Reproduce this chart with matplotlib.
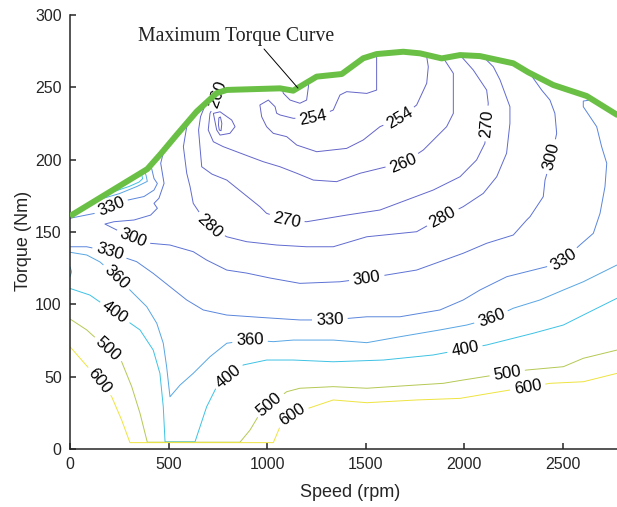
import numpy as np
import matplotlib
matplotlib.use("Agg")
import matplotlib.pyplot as plt
from matplotlib.contour import ContourSet

plt.rcParams["font.family"] = ["Liberation Sans", "DejaVu Sans"]

# BSFC iso-lines (g/kWh) in the speed-torque plane
levels = [254, 260, 270, 280, 300, 330, 360, 400, 500, 600]
level_colors = ["#6464c8", "#6466ca", "#6268cc", "#606bcf", "#5c72d4",
                "#5a86dc", "#58a6e4", "#3ec2e4", "#b4c954", "#eee440"]

# maximum torque curve
mt_speed = [0, 392, 460, 540, 642, 744, 795, 1065, 1132, 1251, 1378, 1487,
            1555, 1690, 1775, 1885, 1978, 2079, 2248, 2324, 2451, 2620, 2780]
mt_torque = [161, 193.5, 204, 217, 233.2, 246, 248.2, 249.3, 247.7, 257.4, 259.2,
             270.1, 273, 274.6, 273.5, 270, 272.3, 271.6, 266.6, 260.4, 251.6, 244, 230.5]

c600_speed = [0, 118, 211, 262, 304, 1031, 1065, 1126, 1208, 1335, 1505, 1758,
              1978, 2130, 2434, 2603, 2774]
c600_torque = [70.7, 52.3, 36.2, 20.0, 4.4, 4.4, 15.4, 23.5, 28.1, 33.9, 32.0, 33.9,
               35.0, 38.5, 45.4, 46.5, 52.3]

c500_speed = [0, 85, 262, 313, 355, 392, 862, 913, 974, 1099, 1166, 1335, 1505,
              1673, 1893, 1994, 2316, 2502, 2603, 2774]
c500_torque = [89.9, 82.3, 60.3, 43.1, 24.7, 4.7, 4.7, 13.1, 27.0, 39.6, 42.0, 43.1,
               42.0, 43.5, 45.4, 47.7, 54.6, 56.9, 62.7, 68.4]

c400_speed = [0, 101, 228, 355, 422, 456, 473, 482, 634, 693, 744, 879, 997, 1132,
              1335, 1589, 1842, 2113, 2349, 2502, 2603, 2774]
c400_torque = [111, 106.4, 94.4, 82.3, 68.4, 52.3, 29.2, 5.0, 5.0, 29.2, 43.1, 58.1,
               61.5, 61.5, 60.3, 61.5, 65.0, 71.9, 80.0, 85.7, 92.6, 104.2]
c400_edge_speed = [0, 8, 0]
c400_edge_torque = [126, 122.5, 119]
c400_top_speed = [185, 300, 350, 368, 362]
c400_top_torque = [176.2, 181.5, 184.5, 186.8, 191]

c360_speed = [0, 85, 152, 237, 321, 389, 440, 473, 490, 507, 558, 625, 710, 795,
              913, 1031, 1132, 1335, 1505, 1673, 1876, 2012, 2138, 2248, 2383,
              2502, 2603, 2774]
c360_torque = [136, 134.1, 129.3, 119.1, 107.6, 98.4, 86.9, 73.1, 56.9, 36.1, 44.2,
               52.3, 63.8, 73.1, 75.3, 74.2, 75.3, 75.3, 73.5, 77.6, 82.3, 85.7,
               90.3, 97.3, 103.0, 109.9, 115.6, 127.2]
c360_top_speed = [130, 250, 340, 392, 386, 378]
c360_top_torque = [171.8, 176.5, 181.5, 185, 189, 192.2]

c330_speed = [0, 85, 203, 288, 338, 422, 507, 592, 676, 795, 963, 1166, 1318, 1505,
              1673, 1876, 1994, 2079, 2215, 2417, 2502, 2586, 2654, 2688, 2713,
              2722, 2696, 2671, 2603, 2603, 2650]
c330_torque = [139.8, 139.8, 136.4, 131.8, 129.5, 121.4, 112.2, 103, 96.1, 92.6, 91,
               89.2, 89.2, 91.4, 91.4, 96.1, 103, 109.9, 119.1, 126, 130.6, 141,
               149.1, 162.9, 181.3, 197.5, 209, 222.8, 236.6, 240.5, 241.5]
c330_top_speed = [0, 130, 213, 291, 375, 426, 443, 426, 410]
c330_top_torque = [159.5, 163, 167.5, 172, 174.5, 179, 183.5, 187, 196.2]

c300_speed = [477, 460, 477, 451, 426, 443, 409, 325, 223, 177, 237, 321, 406, 507,
              625, 693, 795, 896, 1014, 1166, 1369, 1505, 1606, 1758, 1876, 1994,
              2113, 2248, 2316, 2333, 2400, 2409, 2443, 2468, 2459, 2434, 2392, 2330]
c300_torque = [206.8, 197.5, 183.6, 173.3, 169.8, 166.4, 161.7, 158.3, 157.1, 155.5,
               151.4, 145.6, 142.2, 141, 136.4, 130.6, 123.7, 121.6, 118.2, 114.5,
               115.6, 118, 120.3, 123.7, 129.5, 135.3, 142.2, 147.9, 158.3, 160.6,
               174.4, 185.9, 202, 218.2, 232, 241.2, 248.1, 260]

c280_speed = [643, 592, 575, 592, 609, 625, 659, 710, 795, 896, 1048, 1200, 1335,
              1505, 1758, 1891, 1994, 2096, 2164, 2214, 2231, 2231, 2181, 2147, 2096]
c280_torque = [233.2, 222.8, 209, 190.6, 181.3, 169.8, 162.9, 153.4, 146.7, 143.3,
               141, 139.8, 139.8, 146.7, 150.2, 160.4, 167.5, 176.7, 188.2, 204.4,
               225.1, 236.6, 255.1, 264.2, 271.1]

c270_speed = [690, 662, 652, 659, 668, 720, 795, 879, 963, 997, 1099, 1200, 1403,
              1572, 1707, 1842, 1978, 2062, 2104, 2113, 2121, 2113, 2045, 1978]
c270_torque = [239.3, 229.7, 220.5, 209, 195.1, 190, 185.9, 176.7, 167.5, 162.9,
               158.3, 157.1, 161.7, 165.2, 172.1, 179, 188.2, 199.8, 211.3, 225.1,
               239, 248.1, 262, 272.3]

c260_speed = [752, 744, 710, 701, 727, 777, 913, 980, 1065, 1150, 1234, 1352, 1471,
              1606, 1690, 1792, 1910, 1944, 1944, 1893]
c260_torque = [246.4, 241.2, 232, 220.5, 212.4, 209, 202, 198.6, 195.1, 190.6, 185.9,
               184.8, 190.6, 195.1, 197.5, 206.7, 222.8, 232, 259.7, 270.3]

c254_speed = [1555, 1555, 1505, 1403, 1369, 1335, 1234, 1132, 1065, 1048, 1040, 1006,
              963, 972, 997, 1031, 1099, 1150, 1251, 1403, 1487, 1572, 1673, 1758,
              1809, 1817, 1809, 1750]
c254_torque = [272.9, 248.1, 245.8, 247, 244.7, 234.3, 228.6, 228.6, 230.9, 232.1,
               236.6, 241.2, 237.8, 229.7, 222.8, 218.2, 215.9, 210.1, 205.5, 207.8,
               213.6, 222.8, 228.6, 237.8, 252.8, 264.2, 271.2, 274.3]
c254_notch_speed = [1075, 1082, 1116, 1166, 1200, 1209, 1210]
c254_notch_torque = [249.2, 245.9, 241.2, 239, 241.2, 250.4, 254.1]
c254_island_speed = [727, 761, 820, 837, 811, 761, 744, 727]
c254_island_torque = [232, 233.1, 227.4, 222.8, 218.2, 217, 220.5, 232]
c254_core_speed = [755, 763, 770, 766, 757, 753, 755]
c254_core_torque = [229, 229.5, 225, 220, 220.5, 224, 229]

# where the inline values sit on the iso-lines
label_spots = [
    (152, 47), (1116, 25), (2323, 41),
    (193, 69), (1022, 29), (2219, 51),
    (228, 94.5), (811, 49), (2003, 69),
    (237, 119), (913, 75), (2138, 90),
    (203, 137), (1318, 89), (2502, 131), (213, 166),
    (321, 146), (1505, 118), (2443, 202),
    (710, 154), (1891, 160),
    (1099, 158), (2113, 225),
    (1690, 197), (752, 245),
    (1234, 228.6), (1673, 228.6),
]


def seg(s, t):
    return np.column_stack([s, t])


allsegs = [
    [seg(c254_speed, c254_torque), seg(c254_notch_speed, c254_notch_torque),
     seg(c254_island_speed, c254_island_torque), seg(c254_core_speed, c254_core_torque)],
    [seg(c260_speed, c260_torque)],
    [seg(c270_speed, c270_torque)],
    [seg(c280_speed, c280_torque)],
    [seg(c300_speed, c300_torque)],
    [seg(c330_speed, c330_torque), seg(c330_top_speed, c330_top_torque)],
    [seg(c360_speed, c360_torque), seg(c360_top_speed, c360_top_torque)],
    [seg(c400_speed, c400_torque), seg(c400_edge_speed, c400_edge_torque),
     seg(c400_top_speed, c400_top_torque)],
    [seg(c500_speed, c500_torque)],
    [seg(c600_speed, c600_torque)],
]

fig = plt.figure(figsize=(6.17, 5.07), dpi=100)
ax = fig.add_axes([70 / 617, 58 / 507, 547 / 617, 434 / 507])
ax.set_xlim(0, 2774)
ax.set_ylim(0, 300)

cs = ContourSet(ax, levels, allsegs, colors=level_colors, linewidths=0.7)
ax.clabel(cs, levels=levels, manual=label_spots, inline=True, inline_spacing=4,
          fmt="%d", fontsize=12, colors="k")

ax.plot(mt_speed, mt_torque, color="#6abf45", lw=4.3, solid_joinstyle="round",
        solid_capstyle="butt", zorder=5)

ax.annotate("", xy=(1156, 249.5), xytext=(984, 276.5),
            arrowprops=dict(arrowstyle="-", color="k", lw=0.7, shrinkA=0, shrinkB=0),
            zorder=6)
ax.text(842, 282.2, "Maximum Torque Curve", family="Liberation Serif", fontsize=14.2,
        ha="center", va="baseline", color="#222222")

for side in ("top", "right"):
    ax.spines[side].set_visible(False)
for side in ("left", "bottom"):
    ax.spines[side].set_color("#262626")
    ax.spines[side].set_linewidth(1.1)

ax.set_xticks(range(0, 2501, 500))
ax.set_yticks(range(0, 301, 50))
ax.tick_params(direction="in", length=4, width=1.1, colors="#262626",
               labelsize=11.5, pad=6)
ax.set_xlabel("Speed (rpm)", fontsize=13, color="#262626")
ax.set_ylabel("Torque (Nm)", fontsize=13, color="#262626")
ax.xaxis.set_label_coords(0.512, -0.081)
ax.yaxis.set_label_coords(-0.07, 0.48)

fig.savefig("out.png", dpi=100)
